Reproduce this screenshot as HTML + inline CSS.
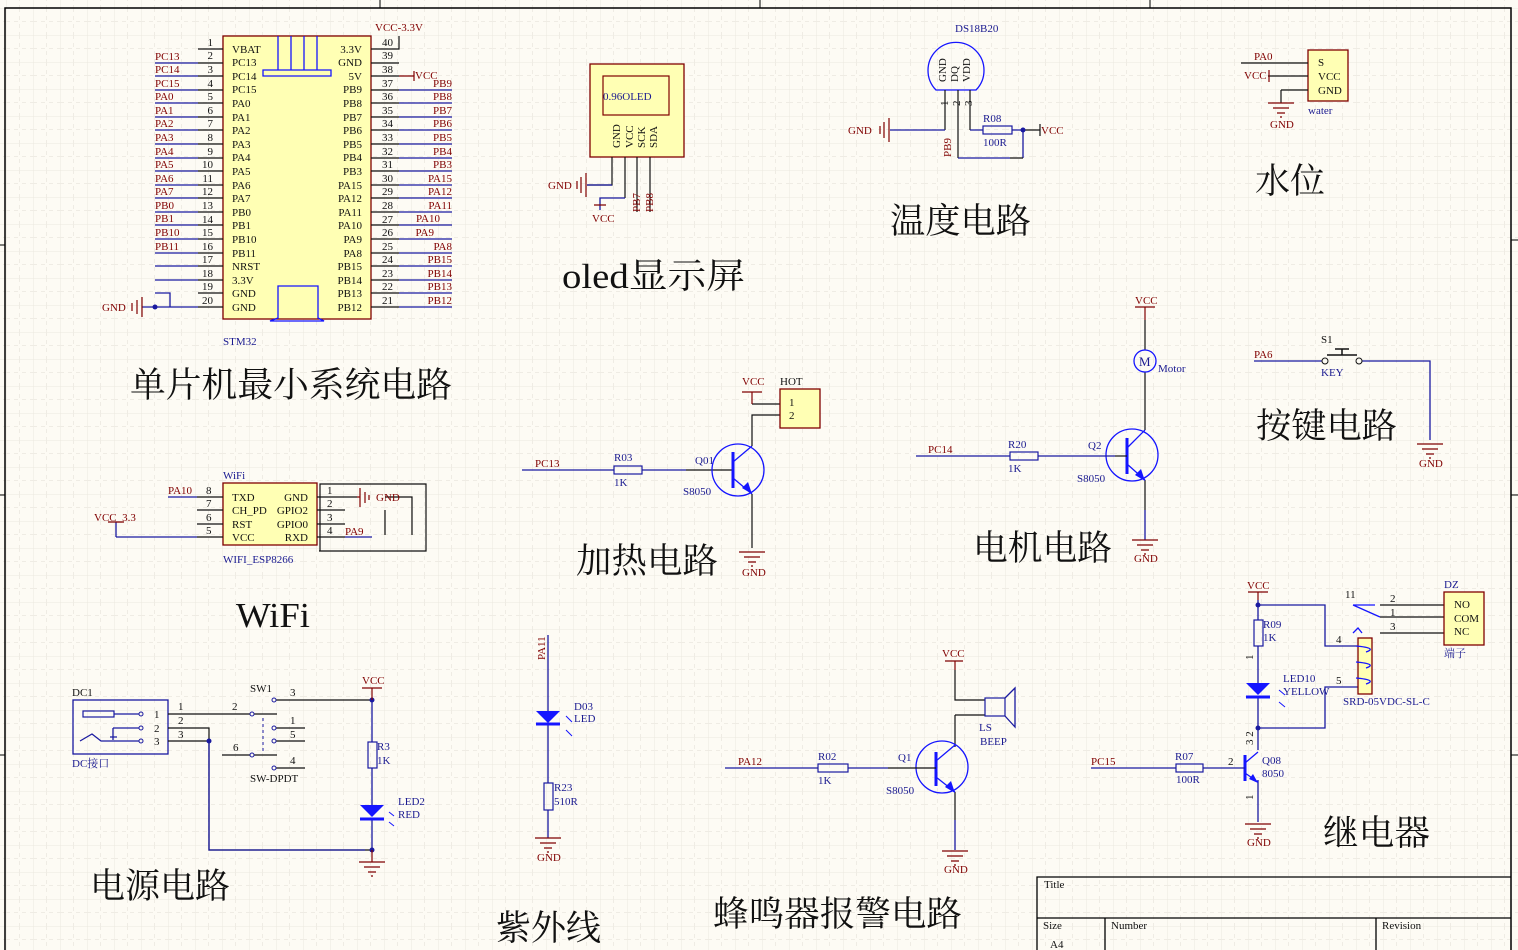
<!DOCTYPE html>
<html><head><meta charset="utf-8"><style>
html,body{margin:0;padding:0;background:#fdfbf4;}
svg{display:block;}
text{font-family:"Liberation Serif","Noto Serif CJK SC",serif;}
.s{font-size:11px;}
.r{fill:#800000;}
.b{fill:#1a1a90;}
.k{fill:#111;}
.big{font-family:"Liberation Serif","Noto Serif CJK SC",serif;font-size:35px;fill:#111;}
.w{stroke:#1a1aa0;stroke-width:1.3;fill:none;}
.bl{stroke:#111;stroke-width:1.2;fill:none;}
.rd{stroke:#800000;stroke-width:1.2;fill:none;}
.bx{fill:#ffffb4;stroke:#800000;stroke-width:1.3;}
.cb{stroke:#1515ff;stroke-width:1.3;fill:none;}
</style></head><body>
<svg width="1518" height="950" viewBox="0 0 1518 950" xmlns="http://www.w3.org/2000/svg">
<defs>
<pattern id="g" x="6" y="8" width="27" height="27" patternUnits="userSpaceOnUse">
<path d="M0 0V27M0 0H27" stroke="#ebe8df" stroke-width="1"/>
<path d="M13.5 0V27M0 13.5H27" stroke="#efece4" stroke-width="1" stroke-dasharray="4 4"/>
</pattern>
<g id="gnd"><path d="M-13 0H13M-8 5H8M-4 10H4M-1 14H1" class="rd"/></g>
</defs>
<rect width="1518" height="950" fill="#fdfbf4"/>
<rect width="1518" height="950" fill="url(#g)"/>
<path d="M5 950V8H1511V950" stroke="#000" stroke-width="1.5" fill="none"/>
<path d="M380 0V8M760 0V8M1150 0V8M0 245H5M0 495H5M0 755H5M1511 240H1518M1511 495H1518M1511 755H1518" stroke="#000"/>

<!-- STM32 -->
<rect x="223" y="36" width="148" height="283" class="bx"/>
<path d="M278 36V70M291 36V70M304 36V70M317 36V70M263 70H331V76H263Z" class="cb"/>
<path d="M278 286H318V318L324 321H270L278 318Z" class="cb"/>
<text x="223" y="345" class="s b">STM32</text>
<text x="375" y="31" class="s r">VCC-3.3V</text>
<g class="s k">
<text x="232" y="53">VBAT</text><text x="232" y="66">PC13</text><text x="232" y="80">PC14</text><text x="232" y="93">PC15</text>
<text x="232" y="107">PA0</text><text x="232" y="121">PA1</text><text x="232" y="134">PA2</text><text x="232" y="148">PA3</text>
<text x="232" y="161">PA4</text><text x="232" y="175">PA5</text><text x="232" y="189">PA6</text><text x="232" y="202">PA7</text>
<text x="232" y="216">PB0</text><text x="232" y="229">PB1</text><text x="232" y="243">PB10</text><text x="232" y="257">PB11</text>
<text x="232" y="270">NRST</text><text x="232" y="284">3.3V</text><text x="232" y="297">GND</text><text x="232" y="311">GND</text>
</g>
<g class="s k" text-anchor="end">
<text x="362" y="53">3.3V</text><text x="362" y="66">GND</text><text x="362" y="80">5V</text><text x="362" y="93">PB9</text>
<text x="362" y="107">PB8</text><text x="362" y="121">PB7</text><text x="362" y="134">PB6</text><text x="362" y="148">PB5</text>
<text x="362" y="161">PB4</text><text x="362" y="175">PB3</text><text x="362" y="189">PA15</text><text x="362" y="202">PA12</text>
<text x="362" y="216">PA11</text><text x="362" y="229">PA10</text><text x="362" y="243">PA9</text><text x="362" y="257">PA8</text>
<text x="362" y="270">PB15</text><text x="362" y="284">PB14</text><text x="362" y="297">PB13</text><text x="362" y="311">PB12</text>
<text x="213" y="46">1</text><text x="213" y="59">2</text><text x="213" y="73">3</text><text x="213" y="87">4</text>
<text x="213" y="100">5</text><text x="213" y="114">6</text><text x="213" y="127">7</text><text x="213" y="141">8</text>
<text x="213" y="155">9</text><text x="213" y="168">10</text><text x="213" y="182">11</text><text x="213" y="195">12</text>
<text x="213" y="209">13</text><text x="213" y="223">14</text><text x="213" y="236">15</text><text x="213" y="250">16</text>
<text x="213" y="263">17</text><text x="213" y="277">18</text><text x="213" y="290">19</text><text x="213" y="304">20</text>
</g>
<g class="s k">
<text x="382" y="46">40</text><text x="382" y="59">39</text><text x="382" y="73">38</text><text x="382" y="87">37</text>
<text x="382" y="100">36</text><text x="382" y="114">35</text><text x="382" y="127">34</text><text x="382" y="141">33</text>
<text x="382" y="155">32</text><text x="382" y="168">31</text><text x="382" y="182">30</text><text x="382" y="195">29</text>
<text x="382" y="209">28</text><text x="382" y="223">27</text><text x="382" y="236">26</text><text x="382" y="250">25</text>
<text x="382" y="263">24</text><text x="382" y="277">23</text><text x="382" y="290">22</text><text x="382" y="304">21</text>
</g>
<path d="M198 49H223M198 63H223M198 76H223M198 90H223M198 103H223M198 117H223M198 130H223M198 144H223M198 158H223M198 171H223M198 185H223M198 198H223M198 212H223M198 225H223M198 239H223M198 253H223M198 266H223M198 280H223M198 293H223M198 307H223" class="bl"/>
<path d="M155 63H198M155 76H198M155 90H198M155 103H198M155 117H198M155 130H198M155 144H198M155 158H198M155 171H198M155 185H198M155 198H198M155 212H198M155 225H198M155 239H198M155 253H198M155 266H198M155 280H198M155 293H170V307M142 307H198" class="w"/>
<circle cx="155" cy="307" r="2.5" fill="#1a1aa0"/>
<path d="M142 297V317M137 300V314M132 303V311" class="rd"/>
<text x="102" y="311" class="s r">GND</text>
<path d="M371 49H399V36M371 63H399M371 76H399M371 90H399M371 103H399M371 117H399M371 130H399M371 144H399M371 158H399M371 171H399M371 185H399M371 198H399M371 212H399M371 225H399M371 239H399M371 253H399M371 266H399M371 280H399M371 293H399M371 307H399" class="bl"/>
<path d="M399 90H452M399 103H452M399 117H452M399 130H452M399 144H452M399 158H452M399 171H452M399 185H452M399 198H452M399 212H452M399 225H452M399 239H452M399 253H452M399 266H452M399 280H452M399 293H452M399 307H452" class="w"/>
<path d="M399 76H414M414 71V81" class="rd"/>
<g class="s r">
<text x="155" y="60">PC13</text><text x="155" y="73">PC14</text><text x="155" y="87">PC15</text><text x="155" y="100">PA0</text>
<text x="155" y="114">PA1</text><text x="155" y="127">PA2</text><text x="155" y="141">PA3</text><text x="155" y="155">PA4</text>
<text x="155" y="168">PA5</text><text x="155" y="182">PA6</text><text x="155" y="195">PA7</text><text x="155" y="209">PB0</text>
<text x="155" y="222">PB1</text><text x="155" y="236">PB10</text><text x="155" y="250">PB11</text>
<text x="415" y="79">VCC</text>
</g>
<g class="s r" text-anchor="end">
<text x="452" y="87">PB9</text><text x="452" y="100">PB8</text><text x="452" y="114">PB7</text><text x="452" y="127">PB6</text>
<text x="452" y="141">PB5</text><text x="452" y="155">PB4</text><text x="452" y="168">PB3</text><text x="452" y="182">PA15</text>
<text x="452" y="195">PA12</text><text x="452" y="209">PA11</text><text x="440" y="222">PA10</text><text x="434" y="236">PA9</text>
<text x="452" y="250">PA8</text><text x="452" y="263">PB15</text><text x="452" y="277">PB14</text><text x="452" y="290">PB13</text><text x="452" y="304">PB12</text>
</g>
<text x="130" y="397" class="big" textLength="322" lengthAdjust="spacingAndGlyphs">单片机最小系统电路</text>

<!-- OLED -->
<rect x="590" y="64" width="94" height="93" class="bx"/>
<rect x="603" y="76" width="66" height="39" fill="none" stroke="#800000" stroke-width="1.2"/>
<text x="603" y="100" class="s b">0.96OLED</text>
<g class="s k">
<text transform="translate(620,148) rotate(-90)">GND</text>
<text transform="translate(633,148) rotate(-90)">VCC</text>
<text transform="translate(645,148) rotate(-90)">SCK</text>
<text transform="translate(657,148) rotate(-90)">SDA</text>
</g>
<path d="M612 157V185H587M625 157V198M637 157V212M650 157V212" class="bl"/>
<path d="M612 185H587M625 198H600V210" class="w"/>
<path d="M586 173V197M581 177V193M577 181V189M594 205H606" class="rd"/>
<text x="548" y="189" class="s r">GND</text>
<text x="592" y="222" class="s r">VCC</text>
<text transform="translate(640,212) rotate(-90)" class="s r">PB7</text>
<text transform="translate(653,212) rotate(-90)" class="s r">PB8</text>
<text x="562" y="288" class="big" textLength="183" lengthAdjust="spacingAndGlyphs">oled显示屏</text>

<!-- DS18B20 -->
<text x="955" y="32" class="s b">DS18B20</text>
<path d="M936 90A28 28 0 1 1 976 90Z" class="cb"/>
<g class="s k">
<text transform="translate(946,82) rotate(-90)">GND</text>
<text transform="translate(958,82) rotate(-90)">DQ</text>
<text transform="translate(970,82) rotate(-90)">VDD</text>
<text transform="translate(948,106) rotate(-90)">1</text>
<text transform="translate(960,106) rotate(-90)">2</text>
<text transform="translate(972,106) rotate(-90)">3</text>
</g>
<path d="M945 90V130M958 90V158M970 90V130" class="bl"/>
<path d="M945 130H890M958 158H1010M970 130H983M1012 130H1023V158" class="w"/>
<path d="M1010 158H1023M1023 130H1040M1040 124V136" class="bl"/>
<rect x="983" y="126" width="29" height="8" fill="none" stroke="#1a1aa0" stroke-width="1.2"/>
<circle cx="1023" cy="130" r="2.5" fill="#1a1aa0"/>
<path d="M889 118V142M884 122V138M880 126V134" class="rd"/>
<text x="848" y="134" class="s r">GND</text>
<text x="1041" y="134" class="s r">VCC</text>
<text x="983" y="122" class="s b">R08</text>
<text x="983" y="146" class="s b">100R</text>
<text transform="translate(951,157) rotate(-90)" class="s r">PB9</text>
<text x="890" y="233" class="big" textLength="141" lengthAdjust="spacingAndGlyphs">温度电路</text>

<!-- water -->
<rect x="1308" y="50" width="40" height="51" class="bx"/>
<g class="s k"><text x="1318" y="66">S</text><text x="1318" y="80">VCC</text><text x="1318" y="94">GND</text></g>
<path d="M1241 63H1308M1268 76H1308M1281 90H1308M1281 90V103" class="bl"/>
<path d="M1269 70V82" class="rd"/>
<use href="#gnd" x="1281" y="103"/>
<text x="1254" y="60" class="s r">PA0</text>
<text x="1244" y="79" class="s r">VCC</text>
<text x="1270" y="128" class="s r">GND</text>
<text x="1308" y="114" class="s b">water</text>
<text x="1255" y="193" class="big" textLength="70" lengthAdjust="spacingAndGlyphs">水位</text>

<!-- heating -->
<text x="535" y="467" class="s r">PC13</text>
<path d="M522 470H614M642 470H686" class="w"/>
<path d="M686 470H732" class="bl"/>
<rect x="614" y="466" width="28" height="8" fill="none" stroke="#1a1aa0" stroke-width="1.2"/>
<text x="614" y="461" class="s b">R03</text><text x="614" y="486" class="s b">1K</text>
<circle cx="738" cy="470" r="26" class="cb"/>
<path d="M733 452V488" stroke="#1515ff" stroke-width="3"/>
<path d="M733 462L752 446M733 478L752 494" class="cb"/>
<path d="M752 494L742 488L748 482Z" fill="#1515ff"/>
<path d="M752 446V415H780M752 494V548M752 404H780" class="bl"/>
<path d="M752 392V404M742 392H762" class="rd"/>
<use href="#gnd" x="752" y="552"/>
<text x="742" y="385" class="s r">VCC</text>
<text x="742" y="576" class="s r">GND</text>
<rect x="780" y="389" width="40" height="39" class="bx"/>
<text x="780" y="385" class="s k">HOT</text>
<text x="789" y="406" class="s k">1</text><text x="789" y="419" class="s k">2</text>
<text x="695" y="464" class="s b">Q01</text>
<text x="683" y="495" class="s b">S8050</text>
<text x="576" y="573" class="big" textLength="142" lengthAdjust="spacingAndGlyphs">加热电路</text>

<!-- motor -->
<text x="1135" y="304" class="s r">VCC</text>
<path d="M1135 307H1155M1145 307V320" class="rd"/>
<path d="M1145 320V350M1145 372V430M1145 480V510" class="bl"/>
<path d="M1145 510V540" class="w"/>
<use href="#gnd" x="1145" y="540"/>
<text x="1134" y="562" class="s r">GND</text>
<circle cx="1145" cy="361" r="11" class="cb"/>
<text x="1139" y="366" style="font-size:13px" class="b">M</text>
<text x="1158" y="372" class="s b">Motor</text>
<circle cx="1132" cy="455" r="26" class="cb"/>
<path d="M1127 438V474" stroke="#1515ff" stroke-width="3"/>
<path d="M1127 448L1145 430M1127 464L1145 480" class="cb"/>
<path d="M1145 481L1135 475L1141 469Z" fill="#1515ff"/>
<text x="928" y="453" class="s r">PC14</text>
<path d="M916 456H1010M1038 456H1115" class="w"/>
<path d="M1115 456H1127" class="bl"/>
<rect x="1010" y="452" width="28" height="8" fill="none" stroke="#1a1aa0" stroke-width="1.2"/>
<text x="1008" y="448" class="s b">R20</text><text x="1008" y="472" class="s b">1K</text>
<text x="1088" y="449" class="s b">Q2</text>
<text x="1077" y="482" class="s b">S8050</text>
<text x="973" y="560" class="big" textLength="139" lengthAdjust="spacingAndGlyphs">电机电路</text>

<!-- key -->
<text x="1254" y="358" class="s r">PA6</text>
<path d="M1254 361H1322M1362 361H1430V440" class="w"/>
<circle cx="1325" cy="361" r="3" fill="none" stroke="#111"/>
<circle cx="1359" cy="361" r="3" fill="none" stroke="#111"/>
<path d="M1327 355H1357M1342 349V355M1335 349H1349" stroke="#111" stroke-width="1.5"/>
<text x="1321" y="343" class="s k">S1</text>
<text x="1321" y="376" class="s b">KEY</text>
<use href="#gnd" x="1430" y="444"/>
<text x="1419" y="467" class="s r">GND</text>
<text x="1256" y="438" class="big" textLength="141" lengthAdjust="spacingAndGlyphs">按键电路</text>

<!-- WiFi -->
<rect x="223" y="483" width="94" height="62" class="bx"/>
<text x="223" y="479" class="s b">WiFi</text>
<text x="223" y="563" class="s b">WIFI_ESP8266</text>
<g class="s k">
<text x="232" y="501">TXD</text><text x="232" y="514">CH_PD</text><text x="232" y="528">RST</text><text x="232" y="541">VCC</text>
<text x="308" y="501" text-anchor="end">GND</text><text x="308" y="514" text-anchor="end">GPIO2</text><text x="308" y="528" text-anchor="end">GPIO0</text><text x="308" y="541" text-anchor="end">RXD</text>
<text x="206" y="494">8</text><text x="206" y="507">7</text><text x="206" y="521">6</text><text x="206" y="534">5</text>
<text x="327" y="494">1</text><text x="327" y="507">2</text><text x="327" y="521">3</text><text x="327" y="534">4</text>
</g>
<path d="M197 497H223M197 510H223M197 524H223M197 537H223M317 497H357M317 510H345M317 524H345M317 537H345M319 551H426V484H320V551M385 497H412V535M385 510V535" class="bl"/>
<path d="M168 497H197M116 537H197M116 522V537M345 537H372" class="w"/>
<path d="M357 497H360M360 488V507M365 492V503M369 495V500M108 522H124" class="rd"/>
<text x="168" y="494" class="s r">PA10</text>
<text x="94" y="521" class="s r">VCC_3.3</text>
<text x="376" y="501" class="s r">GND</text>
<text x="345" y="535" class="s r">PA9</text>
<text x="236" y="627" class="big" textLength="74" lengthAdjust="spacingAndGlyphs">WiFi</text>

<!-- power -->
<text x="72" y="696" class="s k">DC1</text>
<rect x="73" y="700" width="95" height="54" fill="none" stroke="#1a1aa0" stroke-width="1.3"/>
<rect x="83" y="711" width="31" height="6" fill="none" stroke="#1a1aa0" stroke-width="1.2"/>
<path d="M114 714H139M113 728H139M113 728V740M80 741L92 734L101 741H139M110 737H117" class="w"/>
<circle cx="141" cy="714" r="2" fill="none" stroke="#1a1aa0"/>
<circle cx="141" cy="728" r="2" fill="none" stroke="#1a1aa0"/>
<circle cx="141" cy="741" r="2" fill="none" stroke="#1a1aa0"/>
<g class="s k"><text x="154" y="718">1</text><text x="154" y="732">2</text><text x="154" y="745">3</text>
<text x="178" y="710">1</text><text x="178" y="724">2</text><text x="178" y="738">3</text>
<text x="232" y="710">2</text><text x="290" y="696">3</text><text x="290" y="724">1</text><text x="290" y="738">5</text>
<text x="233" y="751">6</text><text x="290" y="764">4</text>
<text x="250" y="692">SW1</text><text x="250" y="782">SW-DPDT</text></g>
<text x="72" y="767" class="s b">DC接口</text>
<path d="M168 714H250M168 728H209V741M168 741H209V850H372M222 755H250M276 700H372M276 728H305M276 741H305M276 768H305M254 714H277M254 755H277" class="bl"/>
<path d="M263 718V752" stroke="#1a1aa0" stroke-dasharray="3 3"/>
<circle cx="252" cy="714" r="2" fill="none" stroke="#1a1aa0"/>
<circle cx="252" cy="755" r="2" fill="none" stroke="#1a1aa0"/>
<circle cx="274" cy="700" r="2" fill="none" stroke="#1a1aa0"/>
<circle cx="274" cy="728" r="2" fill="none" stroke="#1a1aa0"/>
<circle cx="274" cy="741" r="2" fill="none" stroke="#1a1aa0"/>
<circle cx="274" cy="768" r="2" fill="none" stroke="#1a1aa0"/>
<circle cx="209" cy="741" r="2.5" fill="#1a1aa0"/>
<circle cx="372" cy="700" r="2.5" fill="#1a1aa0"/>
<circle cx="372" cy="850" r="2.5" fill="#1a1aa0"/>
<path d="M209 741V850H365" class="w"/>
<path d="M362 688H382M372 688V700M372 850V862" class="rd"/>
<path d="M372 700V742M372 768V805M372 818V850" class="w"/>
<rect x="368" y="742" width="9" height="26" fill="none" stroke="#1a1aa0" stroke-width="1.2"/>
<path d="M360 805H384L372 817Z" fill="#1515ff"/>
<path d="M360 819H384" stroke="#1515ff" stroke-width="3"/>
<path d="M389 812L394 816M389 822L394 826" stroke="#1515ff"/>
<use href="#gnd" x="372" y="862"/>
<text x="362" y="684" class="s r">VCC</text>
<text x="377" y="750" class="s b">R3</text><text x="377" y="764" class="s b">1K</text>
<text x="398" y="805" class="s b">LED2</text><text x="398" y="818" class="s b">RED</text>
<text x="90" y="898" class="big" textLength="140" lengthAdjust="spacingAndGlyphs">电源电路</text>

<!-- UV -->
<text transform="translate(545,660) rotate(-90)" class="s r">PA11</text>
<path d="M548 635V711M548 724V783M548 810V838" class="w"/>
<path d="M536 711H560L548 723Z" fill="#1515ff"/>
<path d="M536 724H560" stroke="#1515ff" stroke-width="3"/>
<path d="M566 716L572 722M566 730L572 736" stroke="#1515ff"/>
<rect x="544" y="783" width="9" height="27" fill="none" stroke="#1a1aa0" stroke-width="1.2"/>
<use href="#gnd" x="548" y="838"/>
<text x="574" y="710" class="s b">D03</text><text x="574" y="722" class="s b">LED</text>
<text x="554" y="791" class="s b">R23</text><text x="554" y="805" class="s b">510R</text>
<text x="537" y="861" class="s r">GND</text>
<text x="496" y="940" class="big" textLength="105" lengthAdjust="spacingAndGlyphs">紫外线</text>

<!-- buzzer -->
<text x="942" y="657" class="s r">VCC</text>
<path d="M945 661H963M955 661V670" class="rd"/>
<path d="M955 670V700H985M955 715H985M955 715V747M955 792V820" class="bl"/>
<path d="M955 820V850" class="w"/>
<use href="#gnd" x="955" y="851"/>
<text x="944" y="873" class="s r">GND</text>
<rect x="985" y="698" width="20" height="18" fill="none" stroke="#1a1aa0" stroke-width="1.2"/>
<path d="M1005 698L1015 688V727L1005 716" class="w"/>
<text x="979" y="731" class="s b">LS</text><text x="980" y="745" class="s b">BEEP</text>
<circle cx="942" cy="767" r="26" class="cb"/>
<path d="M936 752V786" stroke="#1515ff" stroke-width="3"/>
<path d="M936 761L955 745M936 777L955 792" class="cb"/>
<path d="M955 793L945 787L951 781Z" fill="#1515ff"/>
<text x="738" y="765" class="s r">PA12</text>
<path d="M725 768H818M848 768H888" class="w"/>
<path d="M888 768H936" class="bl"/>
<rect x="818" y="764" width="30" height="8" fill="none" stroke="#1a1aa0" stroke-width="1.2"/>
<text x="818" y="760" class="s b">R02</text><text x="818" y="784" class="s b">1K</text>
<text x="898" y="761" class="s b">Q1</text><text x="886" y="794" class="s b">S8050</text>
<text x="713" y="926" class="big" textLength="249" lengthAdjust="spacingAndGlyphs">蜂鸣器报警电路</text>

<!-- relay -->
<text x="1247" y="589" class="s r">VCC</text>
<path d="M1248 592H1268M1258 592V600" class="rd"/>
<path d="M1258 600V620M1258 646V683M1258 697V750M1258 780V822M1258 605H1325V646H1358M1258 728H1325V687H1358" class="w"/>
<circle cx="1258" cy="605" r="2.5" fill="#1a1aa0"/>
<circle cx="1258" cy="728" r="2.5" fill="#1a1aa0"/>
<rect x="1254" y="620" width="9" height="26" fill="none" stroke="#1a1aa0" stroke-width="1.2"/>
<path d="M1246 683H1270L1258 695Z" fill="#1515ff"/>
<path d="M1246 697H1270" stroke="#1515ff" stroke-width="3"/>
<path d="M1279 690L1285 695M1279 702L1285 707" stroke="#1515ff"/>
<text x="1263" y="628" class="s b">R09</text><text x="1263" y="641" class="s b">1K</text>
<text x="1283" y="682" class="s b">LED10</text><text x="1283" y="695" class="s b">YELLOW</text>
<rect x="1358" y="638" width="14" height="56" class="bx"/>
<path d="M1356 646Q1378 648 1366 652M1356 662Q1378 664 1366 668M1356 678Q1378 680 1366 684" class="cb"/>
<text x="1336" y="643" class="s k">4</text><text x="1336" y="684" class="s k">5</text>
<text x="1343" y="705" class="s b">SRD-05VDC-SL-C</text>
<path d="M1380 605H1444M1380 617H1444M1380 633H1444" class="bl"/>
<path d="M1353 605L1380 617M1353 605H1375M1353 633L1358 628L1362 633" class="cb"/>
<text x="1345" y="598" class="s k">11</text>
<text x="1390" y="602" class="s k">2</text><text x="1390" y="616" class="s k">1</text><text x="1390" y="630" class="s k">3</text>
<rect x="1444" y="592" width="40" height="53" class="bx"/>
<text x="1444" y="588" class="s b">DZ</text>
<g class="s k"><text x="1454" y="608">NO</text><text x="1454" y="622">COM</text><text x="1454" y="635">NC</text></g>
<text x="1444" y="657" class="s b">端子</text>
<path d="M1245 755V781" stroke="#1515ff" stroke-width="3"/>
<path d="M1245 763L1258 752M1245 773L1258 782" class="cb"/>
<path d="M1258 783L1249 779L1253 774Z" fill="#1515ff"/>
<text x="1091" y="765" class="s r">PC15</text>
<path d="M1091 768H1176M1203 768H1245" class="w"/>
<rect x="1176" y="764" width="27" height="8" fill="none" stroke="#1a1aa0" stroke-width="1.2"/>
<text x="1175" y="760" class="s b">R07</text><text x="1176" y="783" class="s b">100R</text>
<text x="1228" y="765" class="s k">2</text>
<text x="1262" y="764" class="s b">Q08</text><text x="1262" y="777" class="s b">8050</text>
<g class="s k">
<text transform="translate(1253,660) rotate(-90)">1</text>
<text transform="translate(1253,745) rotate(-90)">3 2</text>
<text transform="translate(1253,800) rotate(-90)">1</text>
</g>
<use href="#gnd" x="1258" y="824"/>
<text x="1247" y="846" class="s r">GND</text>
<text x="1323" y="845" class="big" textLength="107" lengthAdjust="spacingAndGlyphs">继电器</text>

<!-- title block -->
<path d="M1037 950V877H1511M1037 918H1511M1105 918V950M1376 918V950" stroke="#000" stroke-width="1.3" fill="none"/>
<text x="1044" y="888" class="s k">Title</text>
<text x="1043" y="929" class="s k">Size</text>
<text x="1111" y="929" class="s k">Number</text>
<text x="1382" y="929" class="s k">Revision</text>
<text x="1050" y="948" class="s k">A4</text>
</svg>
</body></html>
